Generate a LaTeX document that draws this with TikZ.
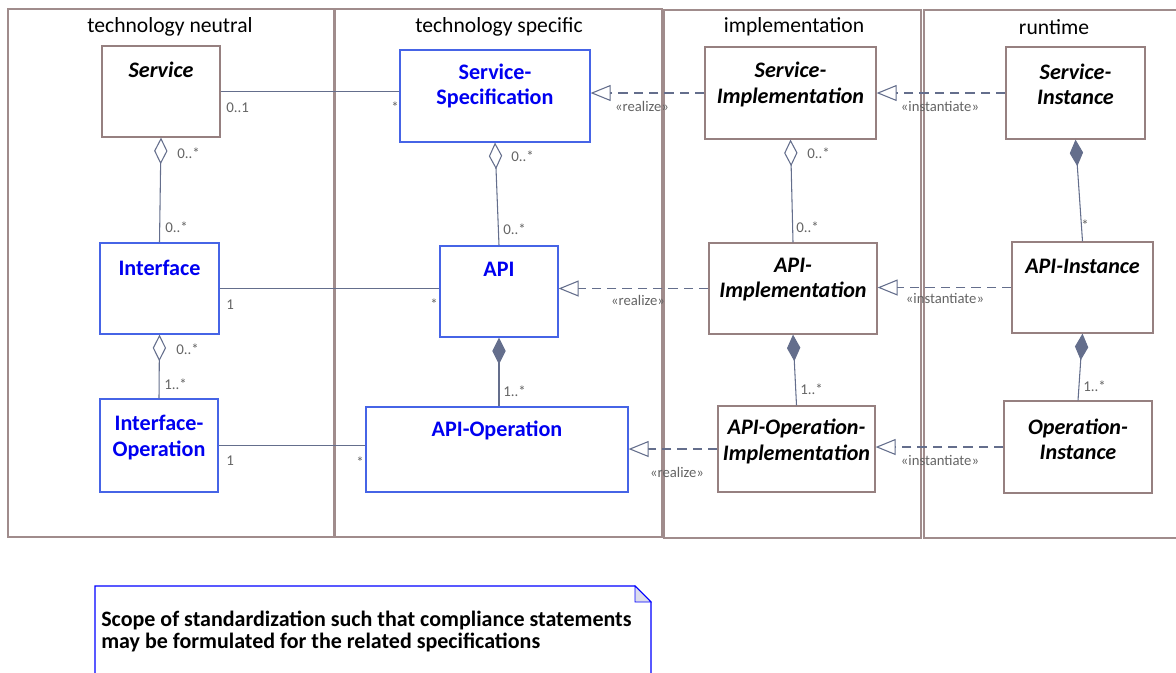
\documentclass[tikz,border=0pt]{standalone}
\usepackage{fontspec}
\setmainfont{Carlito}
\usetikzlibrary{arrows.meta}
\definecolor{lanecol}{RGB}{160,140,140}
\definecolor{boxbrown}{RGB}{150,128,128}
\definecolor{boxblue}{RGB}{70,100,230}
\definecolor{textblue}{RGB}{0,0,240}
\definecolor{conn}{RGB}{100,110,140}
\definecolor{multgray}{RGB}{100,100,100}
\definecolor{notecorner}{RGB}{220,220,236}
\begin{document}
\begin{tikzpicture}[x=0.75pt,y=-0.75pt,
  sz/.style 2 args={minimum width=#1*0.75pt, minimum height=#2*0.75pt},
  lane/.style={draw=lanecol, line width=1pt, inner sep=0pt},
  brownbox/.style={draw=boxbrown, line width=0.9pt, fill=white, inner sep=0pt},
  bluebox/.style={draw=boxblue, line width=0.9pt, fill=white, inner sep=0pt},
  ttl/.style={font=\fontsize{16.2}{19}\selectfont, inner sep=0pt},
  blbl/.style={text=textblue, font=\bfseries\fontsize{16.6}{19}\selectfont, align=center, inner sep=0pt},
  ilbl/.style={font=\bfseries\itshape\fontsize{16.6}{19}\selectfont, align=center, inner sep=0pt},
  mult/.style={text=multgray, font=\fontsize{11.2}{12}\selectfont, inner sep=0pt, anchor=west, text height=7pt, text depth=0pt},
  stereo/.style={text=multgray, font=\fontsize{11}{12}\selectfont, inner sep=0pt},
  assoc/.style={draw=conn, line width=0.8pt},
  agg/.style={assoc, {Diamond[open,length=20pt,width=10pt]}-},
  comp/.style={assoc, {Diamond[length=20pt,width=10pt,fill=conn]}-},
  real/.style={assoc, dash pattern=on 7pt off 4.5pt, -{Triangle[length=15pt,width=12pt,fill=white]}}
]
\useasboundingbox (0,0) rectangle (1176,672);
\clip (0,0) rectangle (1176,672);

% swimlanes
\node[lane, sz={326}{528}] (lane1) at (171,273) {};
\node[lane, sz={327}{528}] (lane2) at (498.5,273) {};
\node[lane, sz={257}{528}] (lane3) at (792.5,274) {};
\node[lane, sz={266}{528}] (lane4) at (1057,274) {};
\node[ttl] (t1) at (170,27) {technology neutral};
\node[ttl] (t2) at (499,27) {technology specific};
\node[ttl] (t3) at (794,27) {implementation};
\node[ttl] (t4) at (1054,27) {runtime};

% boxes
\node[brownbox, sz={118}{91}] (svc) at (161,91.5) {};
\node[bluebox, sz={190}{92}] (ss) at (495,96) {};
\node[bluebox, sz={119}{91}] (intf) at (159.5,288.5) {};
\node[bluebox, sz={118}{91}] (api) at (499,291.5) {};
\node[bluebox, sz={118}{93}] (iop) at (159,445.5) {};
\node[bluebox, sz={262}{85}] (aop) at (497,449.5) {};
\node[brownbox, sz={171}{92}] (si) at (790.5,93) {};
\node[brownbox, sz={168}{91}] (ai) at (793,288.5) {};
\node[brownbox, sz={157}{86}] (aoi) at (796.5,449) {};
\node[brownbox, sz={139}{92}] (sinst) at (1075.5,93) {};
\node[brownbox, sz={141}{91}] (apiinst) at (1082.5,287.5) {};
\node[brownbox, sz={148}{92}] (opinst) at (1078,447) {};

% box labels
\node[ilbl] (svcL) at (161,70) {Service};
\node[blbl] (ssL) at (495,86) {Service-\\Specification};
\node[blbl] (intfL) at (159.5,268) {Interface};
\node[blbl] (apiL) at (499,269) {API};
\node[blbl] (iopL) at (159,437.5) {Interface-\\Operation};
\node[blbl] (aopL) at (497,430) {API-Operation};
\node[ilbl] (siL) at (790.5,84.5) {Service-\\Implementation};
\node[ilbl] (aiL) at (793,279.5) {API-\\Implementation};
\node[ilbl] (aoiL) at (796.5,441.5) {API-Operation-\\Implementation};
\node[ilbl] (sinstL) at (1075.5,84.5) {Service-\\Instance};
\node[ilbl] (apiinstL) at (1082.5,266) {API-Instance};
\node[ilbl] (opinstL) at (1078,439) {Operation-\\Instance};

% associations
\draw[assoc] (svc.east) -- (svc.east -| ss.west);
\draw[assoc] (intf.east) -- (intf.east -| api.west);
\draw[assoc] (iop.east) -- (iop.east -| aop.west);
\draw[agg] (svc.south) -- (intf.north);
\draw[agg] (intf.south) -- (iop.north);
\draw[agg] (ss.south) -- (api.north);
\draw[comp] (api.south) -- (api.south |- aop.north);
\draw[agg] (si.south) -- (ai.north);
\draw[comp] (ai.south) -- (aoi.north);
\draw[comp] (sinst.south) -- (apiinst.north);
\draw[comp] (apiinst.south) -- (opinst.north);

% realize / instantiate
\draw[real] (si.west) -- (si.west -| ss.east);
\draw[real] (ai.west) -- (ai.west -| api.east);
\draw[real] (aoi.west) -- (aoi.west -| aop.east);
\draw[real] (sinst.west) -- (sinst.west -| si.east);
\draw[real] (apiinst.west) -- (apiinst.west -| ai.east);
\draw[real] (opinst.west) -- (opinst.west -| aoi.east);

% multiplicities
\node[mult] (m1) at (226,108) {0..1};
\node[mult] (m2) at (391,108) {*};
\node[mult] (m3) at (177,154) {0..*};
\node[mult] (m4) at (165,228) {0..*};
\node[mult] (m5) at (226,305) {1};
\node[mult] (m6) at (430,305) {*};
\node[mult] (m7) at (176,350) {0..*};
\node[mult] (m8) at (164,385) {1..*};
\node[mult] (m9) at (226,461) {1};
\node[mult] (m10) at (356,463) {*};
\node[mult] (m11) at (511,157) {0..*};
\node[mult] (m12) at (503,230) {0..*};
\node[mult] (m13) at (503,392) {1..*};
\node[mult] (m14) at (807,154) {0..*};
\node[mult] (m15) at (796,228) {0..*};
\node[mult] (m16) at (800,390) {1..*};
\node[mult] (m17) at (1081,226) {*};
\node[mult] (m18) at (1083,387) {1..*};

% stereotypes
\node[stereo] (s1) at (642,106) {«realize»};
\node[stereo] (s2) at (638,300) {«realize»};
\node[stereo] (s3) at (677,472) {«realize»};
\node[stereo] (s4) at (940,106) {«instantiate»};
\node[stereo] (s5) at (945,298) {«instantiate»};
\node[stereo] (s6) at (940,460) {«instantiate»};

% note
\draw[draw=blue, line width=0.9pt, fill=white] (95,700) -- (95,586) -- (635,586) -- (651,602) -- (651,700);
\draw[draw=blue, line width=0.6pt, fill=notecorner] (635,586) -- (635,602) -- (651,602) -- cycle;
\node[anchor=west, align=left, inner sep=0pt, font=\bfseries\fontsize{16.5}{16.5}\selectfont] (notetext) at (101,631)
  {Scope of standardization such that compliance statements\\may be formulated for the related specifications};
\end{tikzpicture}
\end{document}
